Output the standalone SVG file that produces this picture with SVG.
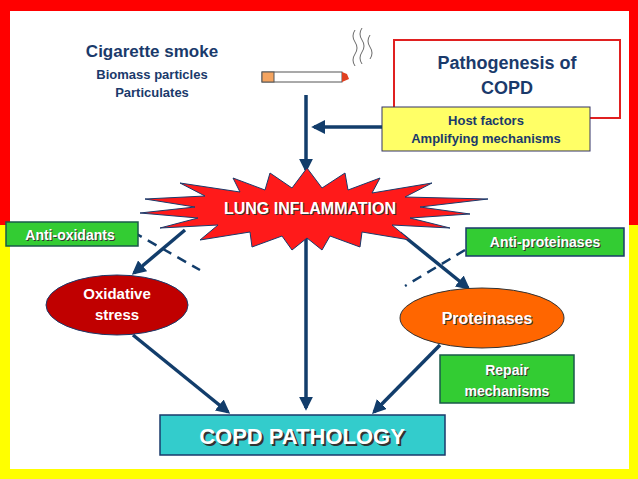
<svg xmlns="http://www.w3.org/2000/svg" width="638" height="479" viewBox="0 0 638 479">
<defs>
<marker id="ah" viewBox="0 0 10 10" refX="8" refY="5" markerWidth="4" markerHeight="4" orient="auto"><path d="M0,0 L10,5 L0,10 z" fill="#123d6b"/></marker>
</defs>
<style>
.t{font-family:"Liberation Sans",Arial,sans-serif;font-weight:bold;text-anchor:middle}
.n{fill:#1a3a6b}
.w{fill:#fff}
.s{fill:#333}
.c{stroke:#123d6b;stroke-width:3.5;fill:none}
.d{stroke:#123d6b;stroke-width:2.5;stroke-dasharray:10,7;fill:none}
.g{fill:#33cc33;stroke:#1a5a4a;stroke-width:1.5}
</style>
<rect width="638" height="225" fill="#ff0000"/>
<rect y="225" width="638" height="254" fill="#ffff00"/>
<rect x="10" y="11" width="619" height="458" fill="#fff"/>
<g id="smoke">
<text class="t n" x="152" y="57" font-size="17">Cigarette smoke</text>
<text class="t n" x="152" y="79" font-size="13">Biomass particles</text>
<text class="t n" x="152" y="97" font-size="13">Particulates</text>
<rect x="262" y="72" width="80" height="10" fill="#fff" stroke="#555"/>
<rect x="262" y="72" width="12" height="10" fill="#f4a460" stroke="#555"/>
<path d="M342,72 L347,74 L349,79 L342,82 z" fill="#e04020"/>
<path d="M355,30 q-4,6 0,12 q4,6 0,12 q-4,6 0,12 M362,28 q-4,6 0,12 q4,6 0,12 q-4,6 0,12 M370,35 q-4,6 0,12 q4,6 0,12" stroke="#444" fill="none" stroke-width="0.8"/>
</g>
<g id="title">
<rect x="394" y="40" width="226" height="78" fill="#fff" stroke="#e02020" stroke-width="2"/>
<text class="t n" x="507" y="69" font-size="18">Pathogenesis of</text>
<text class="t n" x="507" y="94" font-size="18">COPD</text>
</g>
<g id="host">
<rect x="382" y="107" width="208" height="44" fill="#ffff66" stroke="#336"/>
<text class="t n" x="486" y="125" font-size="13">Host factors</text>
<text class="t n" x="486" y="143" font-size="13">Amplifying mechanisms</text>
</g>
<g id="connectors">
<line class="c" x1="306" y1="95" x2="306" y2="170" marker-end="url(#ah)"/>
<line class="c" x1="382" y1="127" x2="314" y2="127" marker-end="url(#ah)"/>
<line class="c" x1="306" y1="230" x2="306" y2="408" marker-end="url(#ah)"/>
<line class="c" x1="185" y1="230" x2="134" y2="273" marker-end="url(#ah)"/>
<line class="c" x1="400" y1="233" x2="468" y2="288" marker-end="url(#ah)"/>
<line class="c" x1="133" y1="335" x2="228" y2="412" marker-end="url(#ah)"/>
<line class="c" x1="440" y1="345" x2="374" y2="412" marker-end="url(#ah)"/>
<line class="d" x1="133" y1="232" x2="200" y2="270"/>
<line class="d" x1="465" y1="250" x2="405" y2="286"/>
</g>
<g id="lung">
<polygon fill="#ff1a1a" stroke="#1a3a6b" stroke-width="1" points="307,168 322,188 345,173 348,190 380,178 372,193 432,183 405,197 488,199 420,207 470,214 410,218 450,228 392,225 410,240 362,232 360,247 330,236 322,250 307,238 292,250 282,236 252,247 250,232 200,240 218,225 160,228 198,218 140,213 195,207 145,199 205,196 180,183 240,192 233,178 265,190 270,173 292,188"/>
<text class="t s" x="311" y="215" font-size="16">LUNG INFLAMMATION</text>
<text class="t w" x="310" y="214" font-size="16">LUNG INFLAMMATION</text>
</g>
<g id="antiox">
<rect x="6" y="222" width="132" height="24" class="g"/>
<text class="t s" x="71" y="241" font-size="14">Anti-oxidants</text>
<text class="t w" x="70" y="240" font-size="14">Anti-oxidants</text>
</g>
<g id="antiprot">
<rect x="466" y="228" width="158" height="28" fill="#33cc33" stroke="#1a3a6b" stroke-width="1.5"/>
<text class="t s" x="546" y="248" font-size="14">Anti-proteinases</text>
<text class="t w" x="545" y="247" font-size="14">Anti-proteinases</text>
</g>
<g id="oxid">
<ellipse cx="117" cy="305" rx="71" ry="30" fill="#c00000" stroke="#1a3a6b"/>
<text class="t w" x="117" y="299" font-size="15">Oxidative</text>
<text class="t w" x="117" y="320" font-size="15">stress</text>
</g>
<g id="prot">
<ellipse cx="482" cy="318" rx="82" ry="30" fill="#ff6600" stroke="#333"/>
<text class="t s" x="488" y="325" font-size="16">Proteinases</text>
<text class="t w" x="487" y="324" font-size="16">Proteinases</text>
</g>
<g id="repair">
<rect x="440" y="355" width="134" height="48" fill="#33cc33" stroke="#1a5a4a" stroke-width="1.5"/>
<text class="t s" x="508" y="376" font-size="14">Repair</text>
<text class="t w" x="507" y="375" font-size="14">Repair</text>
<text class="t s" x="508" y="397" font-size="14">mechanisms</text>
<text class="t w" x="507" y="396" font-size="14">mechanisms</text>
</g>
<g id="pathology">
<rect x="160" y="415" width="285" height="40" fill="#33cccc" stroke="#1a3a6b" stroke-width="1.5"/>
<text class="t s" x="304" y="446" font-size="22">COPD PATHOLOGY</text>
<text class="t w" x="302" y="444" font-size="22">COPD PATHOLOGY</text>
</g>
</svg>
